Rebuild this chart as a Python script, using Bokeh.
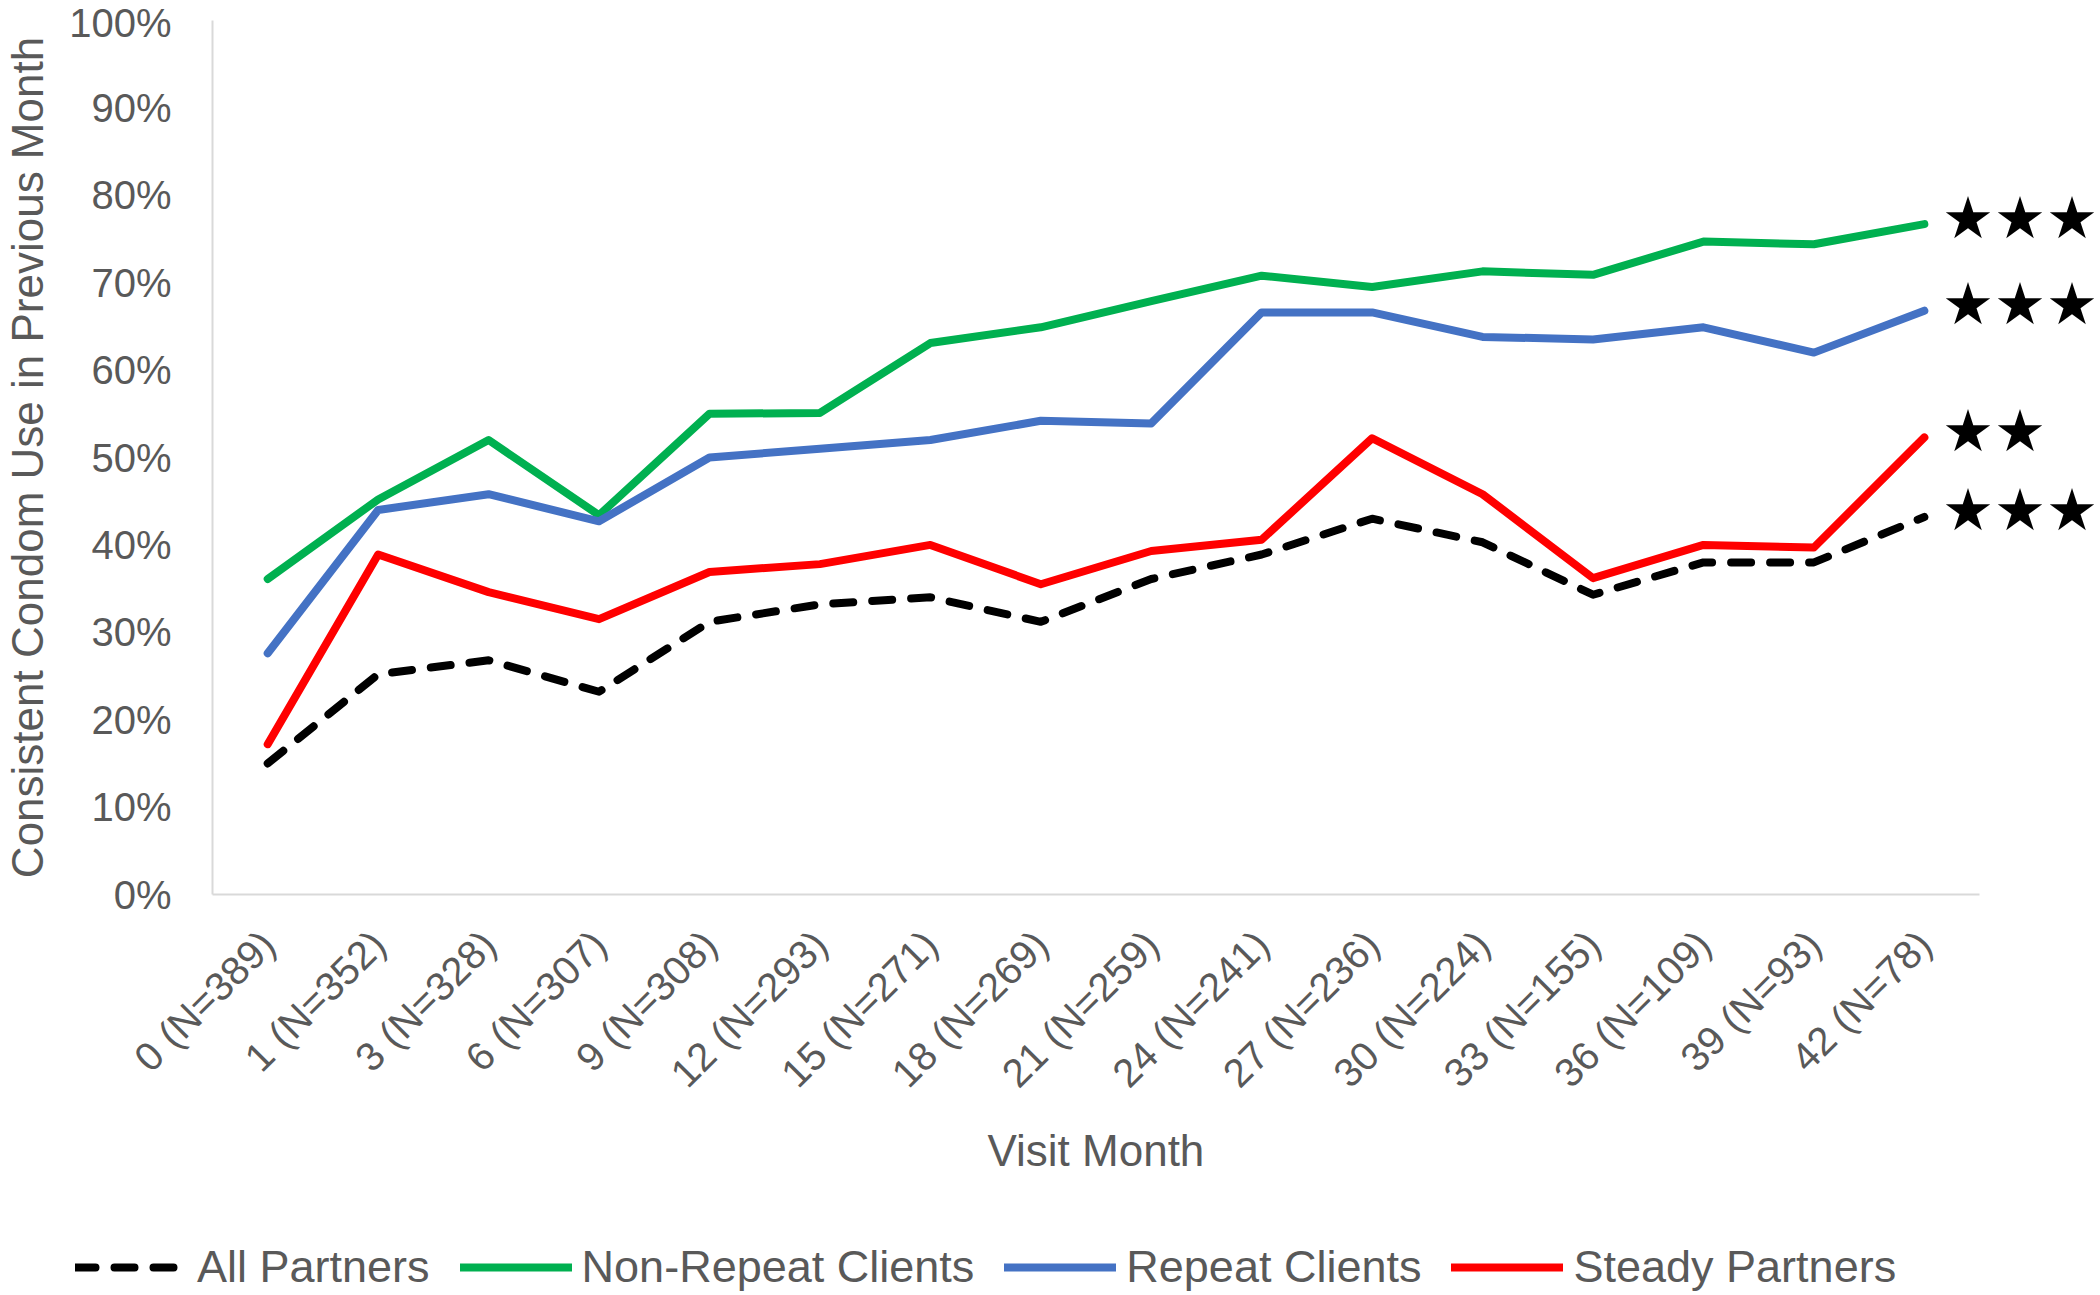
from math import pi
from bokeh.plotting import figure
from bokeh.models import (Range1d, FixedTicker, PrintfTickFormatter, Title,
                          Legend, LegendItem, ColumnDataSource, LabelSet)
from bokeh.embed import file_html
from bokeh.resources import INLINE

months = ["0 (N=389)", "1 (N=352)", "3 (N=328)", "6 (N=307)", "9 (N=308)",
          "12 (N=293)", "15 (N=271)", "18 (N=269)", "21 (N=259)", "24 (N=241)",
          "27 (N=236)", "30 (N=224)", "33 (N=155)", "36 (N=109)", "39 (N=93)",
          "42 (N=78)"]
all_partners = [15.0, 25.2, 26.8, 23.2, 31.2, 33.2, 34.0, 31.2, 36.1, 38.9,
                43.0, 40.3, 34.3, 38.0, 38.0, 43.2]
non_repeat = [36.1, 45.2, 52.0, 43.4, 55.0, 55.1, 63.1, 64.9, 67.9, 70.8,
              69.5, 71.3, 70.9, 74.7, 74.4, 76.7]
repeat = [27.6, 44.0, 45.8, 42.7, 50.0, 51.0, 52.0, 54.2, 53.9, 66.6,
          66.6, 63.8, 63.5, 64.9, 62.0, 66.8]
steady = [17.2, 38.9, 34.6, 31.5, 36.9, 37.8, 40.0, 35.5, 39.3, 40.6,
          52.2, 45.8, 36.2, 40.0, 39.7, 52.3]
series_names = ["All Partners", "Non-Repeat Clients", "Repeat Clients", "Steady Partners"]
significance = ["\u2605\u2605\u2605", "\u2605\u2605\u2605", "\u2605\u2605\u2605", "\u2605\u2605"]
y_ticks = [0, 10, 20, 30, 40, 50, 60, 70, 80, 90, 100]

FONT = "Liberation Sans"
GREY = "#595959"
COLORS = ["#000000", "#00B050", "#4472C4", "#FF0000"]
DASHES = ["20 19", "solid", "solid", "solid"]
series = [all_partners, non_repeat, repeat, steady]

xs = list(range(len(months)))
W = 2098
H_MAIN = 1215
H_LEG = 78
LEFT = 211
CAT = 110.5

p = figure(x_range=Range1d(-0.5, -0.5 + (W - LEFT) / CAT),
           y_range=Range1d(0, 100),
           width=W, height=H_MAIN, output_backend="svg", toolbar_location=None,
           min_border_left=LEFT, min_border_right=0, min_border_top=20,
           min_border_bottom=H_MAIN - 894)
p.outline_line_color = None
p.xgrid.visible = False
p.ygrid.visible = False

for ax in (p.xaxis[0], p.yaxis[0]):
    ax.axis_line_color = "#D9D9D9"
    ax.axis_line_width = 2
    ax.major_tick_line_color = None
    ax.minor_tick_line_color = None
    ax.major_tick_out = 0
    ax.minor_tick_out = 0
    ax.major_tick_in = 0
    ax.minor_tick_in = 0
    ax.major_label_text_color = GREY
    ax.major_label_text_font = FONT
    ax.major_label_text_font_size = "40px"
    ax.axis_label_text_font = FONT
    ax.axis_label_text_font_size = "44px"
    ax.axis_label_text_color = GREY
    ax.axis_label_text_font_style = "normal"

p.yaxis.ticker = FixedTicker(ticks=y_ticks)
p.yaxis.formatter = PrintfTickFormatter(format="%d%%")
p.yaxis.major_label_standoff = 41
p.yaxis.axis_label = "Consistent Condom Use in Previous Month"
p.yaxis.axis_label_standoff = 14

p.xaxis.ticker = FixedTicker(ticks=xs)
p.xaxis.major_label_overrides = {i: m for i, m in zip(xs, months)}
p.xaxis.bounds = (-0.5, len(months) - 0.5)
p.xaxis.major_label_orientation = pi / 4
p.xaxis.major_label_standoff = 43

# x-axis title centred under the category axis (about 1096 px from the left)
xtitle = Title(text="Visit Month", align="left", offset=1096 - LEFT - 110,
               text_font=FONT, text_font_size="44px", text_font_style="normal",
               text_color=GREY, standoff=21)
p.add_layout(xtitle, "below")

common = dict(line_width=8, line_cap="round", line_join="round")
for name, ys, col, dash in zip(series_names[1:] + series_names[:1],
                               series[1:] + series[:1],
                               COLORS[1:] + COLORS[:1], DASHES[1:] + DASHES[:1]):
    p.line(xs, ys, line_color=col, line_dash=dash, **common)

star_src = ColumnDataSource(dict(
    x=[xs[-1]] * 4,
    y=[ys[-1] for ys in series],
    text=significance,
))
stars = LabelSet(x="x", y="y", text="text", source=star_src, x_offset=18, y_offset=6,
                 text_font="DejaVu Sans", text_font_size="58px", text_color="black",
                 text_baseline="middle", text_align="left")
p.add_layout(stars)

# legend strip below the chart (its sample lines use the same series, kept out of view)
lf = figure(width=W, height=H_LEG, x_range=Range1d(-0.5, 15.5), y_range=Range1d(-2, -1),
            output_backend="svg", toolbar_location=None, min_border=0,
            x_axis_type=None, y_axis_type=None)
lf.outline_line_color = None
lf.grid.visible = False
items = []
for name, ys, col, dash in zip(series_names, series, COLORS, DASHES):
    r = lf.line(xs, ys, line_color=col, line_dash=dash, **common)
    items.append(LegendItem(label=name, renderers=[r]))
legend = Legend(items=items, orientation="horizontal", location=(75, 0),
                glyph_width=112, glyph_height=40, label_standoff=10, spacing=30,
                padding=0, margin=0, border_line_color=None, background_fill_alpha=0,
                label_text_font=FONT, label_text_font_size="45px", label_text_color=GREY)
lf.add_layout(legend)

open("out.html", "w").write(file_html([p, lf], INLINE))
